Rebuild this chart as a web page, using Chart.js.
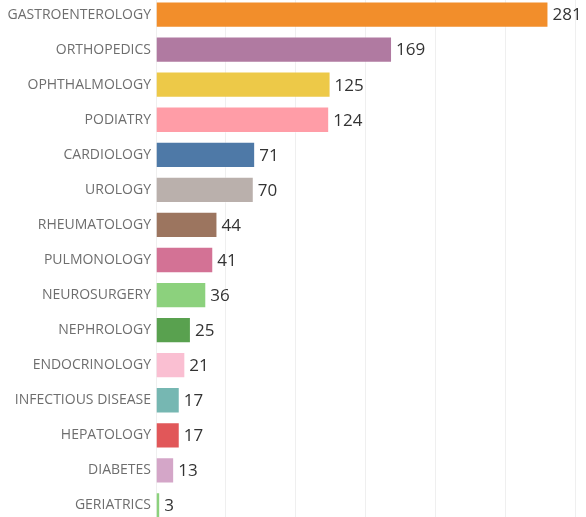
<!doctype html>
<html lang="en">
  <head>
    <meta charset="utf-8">
    <title>Specialties</title>
    <style>
        *{
            box-sizing: border-box;
            margin:0;
            padding:0;
        }
        body{
            background-color:#fff;
            width:586px;
            height:517px;
            overflow:hidden;
            position:relative;
        }
        .chartbox{
            position:absolute;
            left:0;
            top:-3px;
            width:586px;
            height:526px;
        }
    </style>
  </head>
  <body>
    <div class="chartbox">
        <canvas id="myChart"></canvas>
    </div>

    <script src="https://cdn.jsdelivr.net/npm/chart.js@4/dist/chart.umd.min.js"></script>
    <script>
// data
const specialties = ['GASTROENTEROLOGY','ORTHOPEDICS','OPHTHALMOLOGY','PODIATRY','CARDIOLOGY','UROLOGY',
    'RHEUMATOLOGY','PULMONOLOGY','NEUROSURGERY','NEPHROLOGY','ENDOCRINOLOGY','INFECTIOUS DISEASE',
    'HEPATOLOGY','DIABETES','GERIATRICS'];
const counts = [281,169,125,124,71,70,44,41,36,25,21,17,17,13,3];
const barColors = ['#F28E2B','#B07AA1','#EDC948','#FF9DA7','#4E79A7','#BAB0AC','#9C755F','#D37295',
    '#8CD17D','#59A14F','#FABFD2','#76B7B2','#E15759','#D4A6C8','#8CD17D'];

// number after the end of each bar
const valueLabels = {
    id: 'valueLabels',
    afterDatasetsDraw(chart) {
        const ctx = chart.ctx;
        const meta = chart.getDatasetMeta(0);
        ctx.save();
        ctx.font = '17px "Open Sans", sans-serif';
        ctx.fillStyle = '#333';
        ctx.textAlign = 'left';
        ctx.textBaseline = 'middle';
        meta.data.forEach((bar, i) => {
            ctx.fillText(String(counts[i]), bar.x + 4, bar.y + 1);
        });
        ctx.restore();
    }
};

const ctx = document.getElementById('myChart').getContext('2d');
const myChart = new Chart(ctx, {
    type: 'bar',
    data: {
        labels: specialties,
        datasets: [{
            data: counts,
            backgroundColor: barColors,
            borderColor: 'rgba(255,255,255,0.35)',
            borderWidth: 1,
            barPercentage: 0.75,
            categoryPercentage: 1
        }]
    },
    options: {
        indexAxis: 'y',
        responsive: true,
        maintainAspectRatio: false,
        animation: false,
        layout: { autoPadding: false, padding: { left: 0, right: 11, top: 0, bottom: 0 } },
        plugins: {
            legend: { display: false },
            tooltip: { enabled: false }
        },
        scales: {
            x: {
                min: 0,
                max: 300,
                ticks: { display: false, stepSize: 50 },
                grid: { color: '#efefef', drawTicks: false },
                border: { display: false }
            },
            y: {
                afterFit(scale) {
                    scale.width = 156;
                    scale.paddingTop = 0;
                    scale.paddingBottom = 0;
                },
                ticks: {
                    color: '#6e6e6e',
                    padding: 5,
                    font: { family: '"Open Sans", sans-serif', size: 14 }
                },
                grid: { display: false, drawTicks: false },
                border: { display: false }
            }
        }
    },
    plugins: [valueLabels]
});
    </script>
</body>
</html>
